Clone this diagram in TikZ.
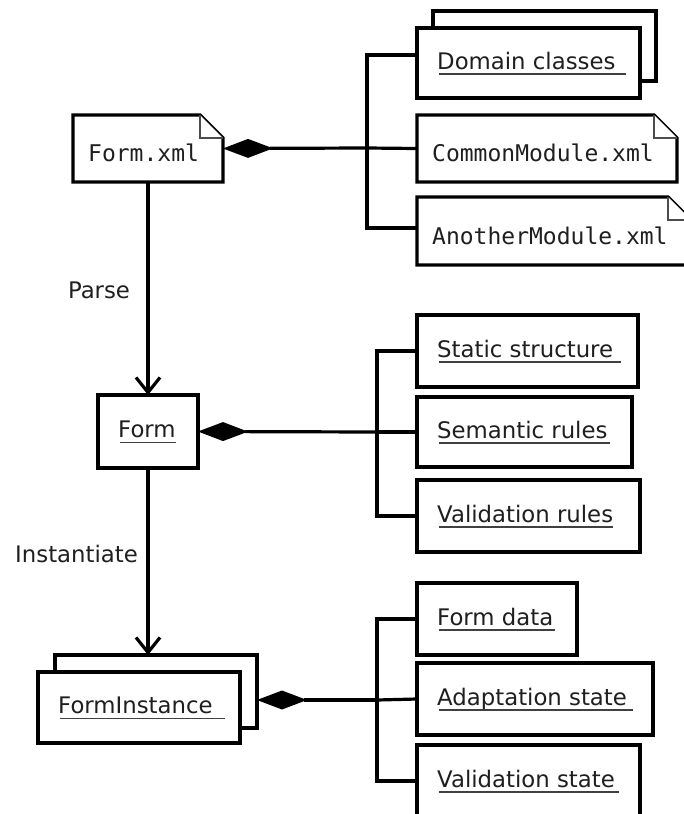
\documentclass[tikz,border=0pt]{standalone}
\usepackage{fontspec}
\setmainfont{DejaVu Sans}
\setmonofont{DejaVu Sans Mono}
\usetikzlibrary{arrows.meta}

\tikzset{
  box/.style={draw, line width=3.2pt, fill=white, inner sep=0pt, outer sep=0pt, anchor=north west},
  area/.style={inner sep=0pt, outer sep=0pt, anchor=north west},
  wire/.style={line width=3.2pt, line join=miter},
  comp/.style={wire, {Diamond[length=50pt,width=19pt,line width=0pt]}-},
  flow/.style={wire, -{Straight Barb[length=15pt,width=24pt]}},
  txt/.style={inner sep=0pt, anchor=base west, text=black!88, font=\fontsize{22.8}{26}\selectfont},
  mono/.style={inner sep=0pt, anchor=base west, text=black!88, font=\ttfamily\fontsize{23}{26}\selectfont},
  uline/.style={line width=1.6pt, draw=black!75},
  fold/.style={line width=1.5pt, draw=black!70, fill=white},
}

% class box: name, north-west corner, width, height, label, extra underline
\newcommand\classbox[6]{%
  \node[box, minimum width=#3pt, minimum height=#4pt] (#1) at (#2) {};
  \node[txt] (#1-t) at ([xshift=20pt,yshift=-6pt]#1.west) {#5};
  \draw[uline] ([xshift=2pt,yshift=-5pt]#1-t.base west) -- ([xshift=#6pt,yshift=-5pt]#1-t.base east);
}

% file note with a folded corner: name, x0, y0, x1, y1, label
\newcommand\filenote[6]{%
  \node[area, minimum width=#4pt-#2pt, minimum height=#5pt-#3pt] (#1) at (#2,#3) {};
  \draw[line width=3.2pt, line join=miter, fill=white]
    (#2,#3) -- (#4-23,#3) -- (#4,#3+23) -- (#4,#5) -- (#2,#5) -- cycle;
  \draw[fold] (#4-23,#3) -- (#4-23,#3+23) -- (#4,#3+23);
  \node[mono] (#1-t) at ([xshift=15pt,yshift=-13pt]#1.west) {#6};
}

\begin{document}
\begin{tikzpicture}[x=1pt,y=-1pt]
\useasboundingbox (0,0) rectangle (683,814);

% source file and its parts
\filenote{formxml}{73}{115}{223}{182}{Form.xml}

\node[box, minimum width=223pt, minimum height=70pt] (dcback) at (433,11) {};
\classbox{dc}{417,28}{223}{70}{Domain classes}{10}
\filenote{common}{417}{115}{677}{182}{CommonModule.xml}
\filenote{another}{417}{197}{691}{265}{AnotherModule.xml}

\coordinate (busA) at (367,148);
\draw[comp] (formxml.east) -- (busA);
\draw[wire] ([yshift=8pt]dc.west) -| (busA);
\draw[wire] (common.west) -- (busA);
\draw[wire] ([yshift=3pt]another.west) -| (busA);

% parsed form and its parts
\classbox{form}{98,395}{100}{73}{Form}{0}
\classbox{ss}{417,315}{221}{72}{Static structure}{8}
\classbox{sr}{417,397}{215}{70}{Semantic rules}{2}
\classbox{vr}{417,480}{223}{72}{Validation rules}{0}

\coordinate (busB) at (377,432);
\draw[comp] (form.east) -- (busB);
\draw[wire] (ss.west) -| (busB);
\draw[wire] (sr.west) -- (busB);
\draw[wire] (vr.west) -| (busB);

% form instances and their state
\node[box, minimum width=202pt, minimum height=73pt] (fiback) at (55,655) {};
\classbox{fi}{38,672}{202}{71}{FormInstance}{12}
\classbox{fd}{417,583}{160}{72}{Form data}{2}
\classbox{as}{417,663}{236}{72}{Adaptation state}{6}
\classbox{vs}{417,745}{223}{72}{Validation state}{4}

\coordinate (busC) at (377,700);
\draw[comp] ([yshift=-8.5pt]fiback.east) -- (busC);
\draw[wire] (fd.west) -| (busC);
\draw[wire] (as.west) -- (busC);
\draw[wire] (vs.west) -| (busC);

% lifecycle arrows
\draw[flow] (formxml.south -| 148,0) -- (form.north -| 148,0);
\draw[flow] (form.south -| 148,0) -- (fiback.north -| 148,0);
\node[txt, anchor=base] (parse) at (99,298) {Parse};
\node[txt] (inst) at (15,562) {Instantiate};
\end{tikzpicture}
\end{document}
